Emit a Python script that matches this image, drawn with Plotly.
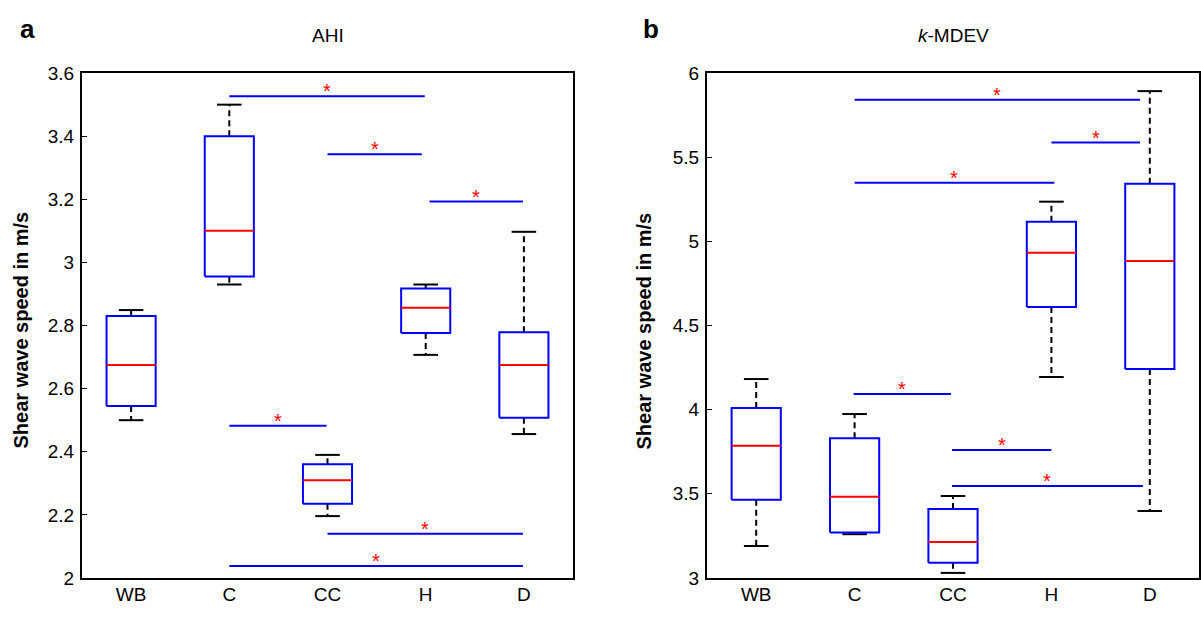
import plotly.graph_objects as go

categories = ["WB", "C", "CC", "H", "D"]

# Panel a: AHI
a_lower = [2.50, 2.93, 2.196, 2.707, 2.456]
a_q1 = [2.545, 2.955, 2.235, 2.776, 2.508]
a_median = [2.675, 3.10, 2.31, 2.856, 2.675]
a_q3 = [2.83, 3.40, 2.36, 2.917, 2.779]
a_upper = [2.849, 3.50, 2.39, 2.93, 3.097]
a_sig_x1 = [2.0, 3.0, 4.04, 2.0, 3.0, 2.0]
a_sig_x2 = [3.99, 3.96, 4.99, 2.99, 4.99, 4.99]
a_sig_y = [3.527, 3.343, 3.193, 2.482, 2.14, 2.038]

# Panel b: k-MDEV
b_lower = [3.19, 3.26, 3.03, 4.194, 3.398]
b_q1 = [3.465, 3.27, 3.09, 4.61, 4.242]
b_median = [3.786, 3.483, 3.214, 4.933, 4.884]
b_q3 = [4.01, 3.83, 3.41, 5.117, 5.343]
b_upper = [4.182, 3.974, 3.487, 5.236, 5.893]
b_sig_x1 = [2.0, 4.0, 2.0, 1.99, 2.99, 2.99]
b_sig_x2 = [4.90, 4.90, 4.03, 2.98, 4.0, 4.93]
b_sig_y = [5.842, 5.587, 5.349, 4.093, 3.76, 3.547]

BW = 0.25   # half box width
CW = 0.125  # half cap width
FONT = "Liberation Sans, Arial, sans-serif"

fig = go.Figure()


def add_panel(fig, xa, ya, lower, q1, med, q3, upper, sx1, sx2, sy):
    pos = list(range(1, len(categories) + 1))
    bx, by, mx, my, wx, wy, cx, cy = [], [], [], [], [], [], [], []
    for i, p in enumerate(pos):
        bx += [p - BW, p + BW, p + BW, p - BW, p - BW, None]
        by += [q1[i], q1[i], q3[i], q3[i], q1[i], None]
        mx += [p - BW, p + BW, None]
        my += [med[i], med[i], None]
        wx += [p, p, None, p, p, None]
        wy += [q3[i], upper[i], None, q1[i], lower[i], None]
        cx += [p - CW, p + CW, None, p - CW, p + CW, None]
        cy += [upper[i], upper[i], None, lower[i], lower[i], None]
    common = dict(xaxis=xa, yaxis=ya, mode="lines", showlegend=False, hoverinfo="skip")
    fig.add_trace(go.Scatter(x=wx, y=wy, line=dict(color="black", width=2, dash="6px,4px"), **common))
    fig.add_trace(go.Scatter(x=cx, y=cy, line=dict(color="black", width=2), **common))
    fig.add_trace(go.Scatter(x=bx, y=by, line=dict(color="#0000ff", width=2), **common))
    fig.add_trace(go.Scatter(x=mx, y=my, line=dict(color="#ff0000", width=2), **common))
    lx, ly = [], []
    for x1, x2, y in zip(sx1, sx2, sy):
        lx += [x1, x2, None]
        ly += [y, y, None]
    fig.add_trace(go.Scatter(x=lx, y=ly, line=dict(color="#0000ff", width=2), **common))
    for x1, x2, y in zip(sx1, sx2, sy):
        fig.add_annotation(x=(x1 + x2) / 2, y=y, xref=xa, yref=ya,
                           text="*", showarrow=False, yanchor="middle", yshift=5,
                           font=dict(color="#ff0000", size=20, family=FONT))


add_panel(fig, "x", "y", a_lower, a_q1, a_median, a_q3, a_upper, a_sig_x1, a_sig_x2, a_sig_y)
add_panel(fig, "x2", "y2", b_lower, b_q1, b_median, b_q3, b_upper, b_sig_x1, b_sig_x2, b_sig_y)

W, H = 1201, 620


def py(r):
    # paper fraction for a pixel row of the photographed page
    return (609 - r) / 598


ydom = [py(578), py(74)]
xdom_a = [82 / W, 573 / W]
xdom_b = [707 / W, 1199 / W]

axis_common = dict(showline=True, linecolor="black", linewidth=2, mirror=True,
                   showgrid=False, zeroline=False, tickfont=dict(family=FONT, size=19, color="black"))

fig.update_layout(
    width=W, height=H,
    margin=dict(l=0, r=0, t=0, b=0),
    paper_bgcolor="white", plot_bgcolor="white",
    font=dict(family=FONT, color="black"),
    xaxis=dict(domain=xdom_a, range=[0.5, 5.5], tickvals=[1, 2, 3, 4, 5], ticktext=categories,
               ticks="", anchor="y", ticklabelstandoff=-2, **axis_common),
    yaxis=dict(domain=ydom, range=[2, 3.6], dtick=0.2, ticks="inside", ticklen=5, tickwidth=1,
               tickcolor="black", anchor="x", ticklabelstandoff=2, **axis_common),
    xaxis2=dict(domain=xdom_b, range=[0.5, 5.5], tickvals=[1, 2, 3, 4, 5], ticktext=categories,
                ticks="", anchor="y2", ticklabelstandoff=-2, **axis_common),
    yaxis2=dict(domain=ydom, range=[3, 6], dtick=0.5, ticks="inside", ticklen=5, tickwidth=1,
                tickcolor="black", anchor="x2", ticklabelstandoff=2, **axis_common),
)

paper_annots = [
    dict(x=27 / W, y=py(30), text="<b>a</b>", size=26),
    dict(x=651 / W, y=py(30), text="<b>b</b>", size=26),
    dict(x=327.5 / W, y=py(36), text="AHI", size=19),
    dict(x=953 / W, y=py(36), text="<i>k</i>-MDEV", size=19),
]
for a in paper_annots:
    fig.add_annotation(x=a["x"], y=a["y"], xref="paper", yref="paper", text=a["text"],
                       showarrow=False, xanchor="center", yanchor="middle",
                       font=dict(family=FONT, size=a["size"], color="black"))

for xc in [21, 644]:
    fig.add_annotation(x=xc / W, y=py(331), xref="paper", yref="paper",
                       text="<b>Shear wave speed in m/s</b>", textangle=-90, showarrow=False,
                       xanchor="center", yanchor="middle",
                       font=dict(family=FONT, size=20, color="black"))

fig.write_html("out.html", config={"displayModeBar": False},
               post_script="document.body.style.margin='0';document.body.style.overflow='hidden';")
